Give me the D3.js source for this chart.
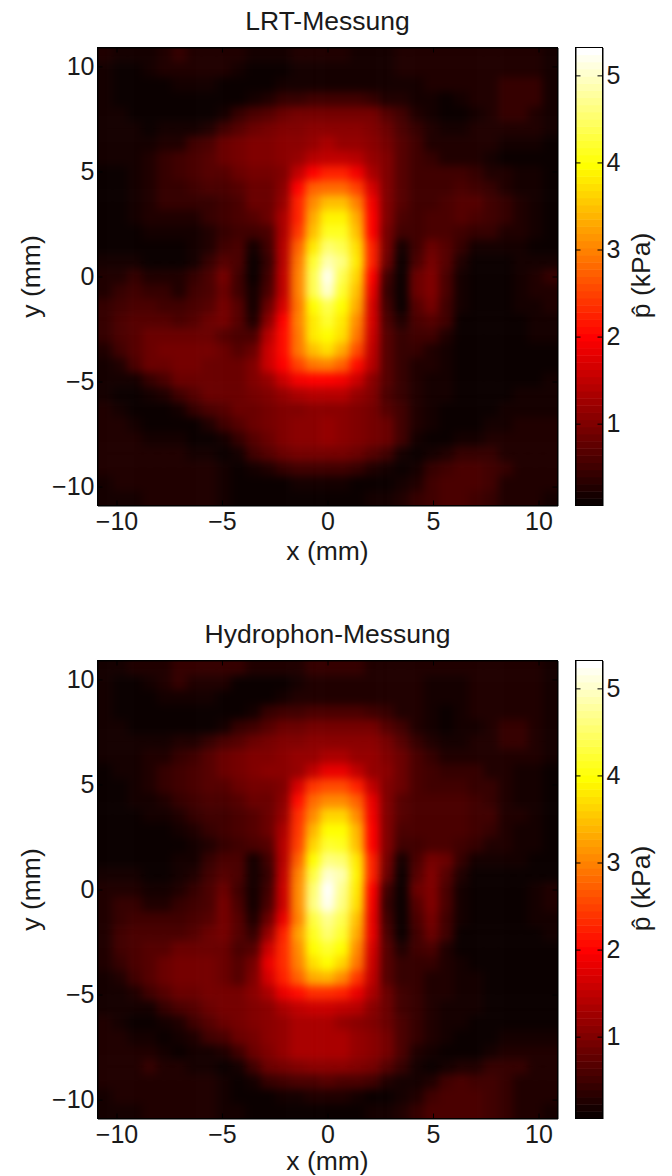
<!DOCTYPE html>
<html>
<head>
<meta charset="utf-8">
<script src="https://cdn.jsdelivr.net/npm/d3@7"></script>
<style>
  html, body { margin: 0; padding: 0; background: #fff; }
  svg { display: block; }
  text { font-family: "Liberation Sans", Arial, sans-serif; fill: #1a1a1a; }
</style>
</head>
<body>
<svg id="chart" width="672" height="1176"></svg>
<script>
// values below are in 0.1 kPa, top row is y = +10.9
var lrtGrid = [
[3,2,2,2,3,4,3,3,3,3,2,2,2,3,3,3,3,2,2,2,3,3,3,3,3,3,3,3,3,3,2],
[2,1,1,2,3,3,3,3,3,2,1,1,1,2,2,2,2,2,2,2,3,3,3,3,3,3,3,3,3,3,2],
[2,1,1,1,1,2,2,2,1,1,1,1,2,2,2,2,2,2,2,2,2,2,3,3,3,3,3,4,4,4,2],
[2,1,1,1,1,1,1,1,1,1,2,3,4,4,5,5,5,5,4,3,3,2,2,1,2,3,3,4,4,4,2],
[2,2,1,1,1,1,1,1,2,4,6,7,8,9,9,9,9,9,9,7,5,3,2,1,1,2,3,4,4,3,2],
[2,2,2,1,2,2,2,3,5,7,8,9,10,10,11,11,11,11,10,8,6,4,3,2,2,3,3,3,3,3,2],
[2,2,2,2,3,3,5,6,8,9,10,10,11,11,12,13,12,12,11,9,7,5,3,3,3,3,3,2,2,2,1],
[2,2,2,3,4,5,6,7,8,9,10,10,11,12,14,15,15,14,12,10,7,5,4,3,3,3,2,1,1,1,1],
[1,1,2,3,4,5,6,7,7,8,9,9,10,15,20,22,22,19,13,10,7,5,5,5,5,4,3,3,2,2,1],
[1,1,2,3,4,4,5,6,6,7,8,8,11,20,27,28,28,25,17,10,7,5,5,5,6,5,4,3,2,2,1],
[1,1,2,3,4,4,4,4,5,6,8,8,12,22,31,35,35,30,19,10,7,5,5,6,7,7,5,4,3,2,1],
[1,1,2,3,3,3,3,4,5,6,7,8,13,22,33,39,39,33,20,10,6,5,6,6,7,6,5,4,3,2,1],
[1,1,1,2,2,2,2,3,4,5,5,6,13,24,35,41,41,35,20,9,5,5,6,6,5,4,4,3,3,2,1],
[1,1,1,1,1,1,2,3,5,6,2,5,14,27,38,45,44,37,22,9,2,5,8,7,4,2,2,2,2,1,1],
[2,2,2,1,1,1,2,4,7,6,1,4,14,29,42,49,46,38,22,8,1,6,9,7,3,1,1,1,2,2,2],
[3,3,4,3,3,3,4,6,9,5,1,5,15,30,44,52,44,36,20,5,1,8,10,6,2,1,0,1,2,3,4],
[3,4,5,4,4,3,5,6,8,5,2,6,15,30,44,50,42,35,18,4,1,8,10,6,2,1,1,1,2,3,3],
[4,5,6,6,5,5,6,7,9,7,2,8,17,29,40,44,40,33,17,5,1,7,9,5,2,1,1,1,2,2,3],
[4,6,7,7,7,6,7,8,9,7,3,11,20,30,38,42,38,31,17,6,3,6,7,5,1,1,1,1,1,2,2],
[4,6,7,8,8,8,8,8,7,6,6,14,21,29,38,40,37,29,16,7,4,5,5,3,1,1,1,0,1,2,2],
[3,5,7,8,9,9,9,9,8,7,8,16,21,29,35,37,33,26,15,7,4,4,3,2,1,1,1,0,1,1,1],
[2,3,6,8,8,9,9,8,8,8,10,16,20,25,29,30,27,21,14,7,4,3,3,2,1,1,1,0,1,1,1],
[2,2,2,4,6,8,8,8,8,8,10,12,16,19,20,20,19,16,11,7,4,3,2,2,1,1,1,1,1,1,2],
[2,1,1,2,3,5,7,8,8,8,9,10,12,13,14,14,14,12,10,6,4,3,2,2,1,1,1,1,2,2,2],
[3,2,1,1,1,2,4,6,7,8,8,9,10,10,11,11,11,10,9,7,5,3,2,1,1,1,1,2,2,2,2],
[3,3,2,1,1,1,1,3,5,7,8,9,10,11,11,12,11,10,9,8,5,3,2,1,1,1,2,2,3,3,3],
[3,3,3,2,2,2,1,1,2,4,7,8,10,11,11,12,11,10,9,8,5,2,1,1,2,2,3,3,3,3,3],
[3,3,3,3,3,3,2,2,1,2,5,7,8,9,9,9,9,8,7,5,2,1,2,3,4,4,4,3,3,3,3],
[3,3,3,3,3,3,3,3,2,1,2,3,4,5,5,5,5,4,3,2,1,2,4,5,6,6,5,4,3,3,3],
[2,3,3,3,3,3,3,3,2,1,1,1,1,2,2,2,2,1,1,1,2,3,5,6,6,6,5,3,3,3,3],
[2,2,2,3,3,3,3,3,2,1,1,1,1,1,1,1,1,1,2,2,3,4,5,6,6,5,4,3,3,3,2]
];

var hydroGrid = [
[2,2,3,3,3,4,4,4,4,4,3,3,3,3,4,4,4,4,3,3,3,3,3,3,3,3,3,3,3,3,2],
[2,1,1,2,3,4,3,3,3,1,1,1,1,2,3,3,3,3,3,3,3,3,2,2,2,3,3,3,3,3,2],
[2,1,1,1,2,2,2,2,1,1,0,1,2,3,3,3,3,3,3,3,3,3,2,2,2,3,3,3,3,3,2],
[2,1,1,1,1,1,1,1,1,1,2,4,5,5,6,6,6,6,5,4,3,3,2,1,2,3,3,3,3,3,2],
[2,2,1,1,0,0,1,1,2,4,5,7,8,8,9,9,9,9,9,7,5,3,2,1,2,2,3,4,4,3,2],
[2,2,2,2,2,3,3,4,6,7,8,9,10,10,11,11,11,11,11,9,7,4,3,2,2,3,3,4,4,3,2],
[2,2,2,3,3,4,5,7,8,9,10,10,11,12,12,13,13,12,12,10,8,6,4,3,3,3,3,3,3,3,2],
[1,2,2,3,4,5,6,7,8,9,10,11,11,12,15,18,18,15,12,11,8,6,5,4,4,4,3,3,2,2,1],
[1,1,2,3,4,5,6,7,7,8,9,9,10,17,24,26,26,22,15,10,8,6,5,5,5,4,4,3,2,2,1],
[1,1,2,2,3,4,5,6,6,7,8,8,11,21,28,31,31,27,18,10,7,6,6,6,6,5,4,3,2,2,1],
[1,1,1,2,2,3,4,5,5,6,7,8,12,23,31,36,36,31,19,10,7,6,6,6,6,5,5,3,3,2,1],
[1,1,1,1,1,2,3,4,5,6,7,8,13,24,34,40,40,34,20,10,6,6,6,6,6,5,4,3,2,2,1],
[1,1,1,1,1,1,2,3,4,5,6,7,14,25,36,42,41,35,20,10,5,5,6,6,5,4,3,3,2,2,1],
[1,1,1,1,1,2,2,4,6,6,2,5,14,27,40,46,45,38,22,9,2,6,9,8,4,2,2,2,2,1,1],
[2,2,2,1,1,2,3,5,7,6,2,4,15,30,43,50,49,39,22,8,1,7,10,7,3,1,0,1,1,1,1],
[3,3,3,2,2,3,4,6,8,5,2,5,16,31,45,53,47,38,20,5,1,8,10,6,2,1,0,0,1,2,3],
[3,4,4,3,3,4,5,6,9,6,2,6,16,31,46,52,46,37,19,4,0,7,10,6,2,1,1,1,1,2,3],
[3,4,5,5,5,5,6,7,9,7,3,8,18,30,43,47,44,35,18,5,0,6,9,5,2,1,1,1,1,2,2],
[3,5,6,6,6,6,7,8,9,7,4,12,22,32,41,45,42,33,18,6,1,5,8,5,1,1,1,1,1,1,2],
[3,5,6,7,7,8,8,8,8,6,7,16,23,31,40,42,40,31,17,7,3,5,6,3,1,0,1,1,1,1,1],
[3,4,6,7,8,9,9,9,8,7,9,18,23,30,37,40,36,29,16,7,4,4,4,3,2,1,1,1,1,1,1],
[2,3,5,7,8,9,9,9,8,7,10,17,22,27,33,34,31,24,15,7,4,4,3,3,2,2,1,1,1,1,1],
[2,2,3,5,7,8,8,9,9,9,11,13,18,21,23,23,22,18,13,8,5,4,3,3,2,2,1,1,1,1,1],
[2,2,2,2,4,6,7,8,9,9,10,11,13,15,16,16,15,14,11,8,5,4,3,2,2,2,1,1,1,1,1],
[3,2,1,1,2,3,5,7,8,9,10,11,12,13,13,13,12,11,10,8,6,4,3,2,2,1,1,1,1,1,1],
[3,3,2,2,1,2,3,5,6,8,9,11,12,13,13,13,13,12,11,9,6,4,3,2,1,1,1,2,2,2,2],
[3,3,3,3,2,1,2,2,3,5,8,10,12,13,13,13,13,12,11,9,6,3,2,1,1,1,2,3,3,3,3],
[3,3,3,4,3,3,2,2,1,2,5,8,9,10,11,11,11,10,9,7,4,2,1,2,3,3,4,4,4,3,3],
[3,3,3,3,3,3,3,3,2,1,2,4,5,6,6,7,6,6,5,3,2,2,3,5,6,5,5,4,3,3,3],
[2,3,3,3,3,3,3,3,2,1,1,1,2,2,3,3,3,2,1,1,2,3,5,6,6,6,5,4,3,3,3],
[2,2,2,3,3,3,3,3,2,2,1,1,1,1,1,1,1,1,2,2,3,4,6,6,6,6,5,4,3,3,2]
];

var axisTicks = [-10, -5, 0, 5, 10];
var barTicks = [1, 2, 3, 4, 5];
var pMin = 0.06, pMax = 5.32;
var axisLimit = 10.9;

// matlab "hot" colormap, 64 steps
var nColors = 64;
function hot(t) {
    var k = Math.min(nColors - 1, Math.floor(t * nColors)) + 1;
    var n = 24;
    var r = Math.min(1, k / n);
    var g = Math.max(0, Math.min(1, (k - n) / n));
    var b = Math.max(0, (k - 2 * n) / (nColors - 2 * n));
    return d3.rgb(r * 255, g * 255, b * 255);
}
var pScale = d3.scaleLinear().domain([pMin, pMax]).range([0, 1]).clamp(true);

var svg = d3.select("#chart");
var defs = svg.append("defs");

// soft edges between the cells
defs.append("filter")
    .attr("id", "soft")
    .attr("filterUnits", "userSpaceOnUse")
    .attr("x", 0).attr("y", 0).attr("width", 672).attr("height", 1176)
    .attr("color-interpolation-filters", "sRGB")
    .append("feGaussianBlur")
    .attr("stdDeviation", 4.5);

function drawPanel(id, grid, title, top, bottom, xLabelGap) {
    var left = 97.5, right = 557.5;
    var barLeft = 575.5, barRight = 602.5;

    var x = d3.scaleLinear().domain([-axisLimit, axisLimit]).range([left, right]);
    var y = d3.scaleLinear().domain([-axisLimit, axisLimit]).range([bottom, top]);
    var col = d3.scaleBand().domain(d3.range(grid[0].length)).range([left, right]);
    var row = d3.scaleBand().domain(d3.range(grid.length)).range([top, bottom]);

    defs.append("clipPath").attr("id", "clip" + id)
        .append("rect")
        .attr("x", left).attr("y", top)
        .attr("width", right - left).attr("height", bottom - top);

    var cells = [];
    grid.forEach(function (r, i) {
        r.forEach(function (v, j) {
            cells.push({ i: i, j: j, v: v / 10 });
        });
    });

    // the outer cells run past the box so the blur does not fade at the border
    var over = 20;
    svg.append("g")
        .attr("clip-path", "url(#clip" + id + ")")
        .append("g")
        .attr("filter", "url(#soft)")
        .selectAll("rect")
        .data(cells)
        .enter()
        .append("rect")
        .attr("x", d => col(d.j) - (d.j == 0 ? over : 0))
        .attr("y", d => row(d.i) - (d.i == 0 ? over : 0))
        .attr("width", d => col.bandwidth() + 0.5 + (d.j == 0 || d.j == grid[0].length - 1 ? over : 0))
        .attr("height", d => row.bandwidth() + 0.5 + (d.i == 0 || d.i == grid.length - 1 ? over : 0))
        .attr("fill", d => hot(pScale(d.v)));

    var fmt = d3.format("d");
    var font = 25;
    var labelFont = 26.5;

    var bottomAxis = svg.append("g")
        .attr("transform", "translate(0," + bottom + ")")
        .call(d3.axisBottom(x).tickValues(axisTicks).tickSizeInner(-5).tickSizeOuter(0).tickPadding(7));
    var leftAxis = svg.append("g")
        .attr("transform", "translate(" + left + ",0)")
        .call(d3.axisLeft(y).tickValues(axisTicks).tickSizeInner(-5).tickSizeOuter(0).tickPadding(3));
    svg.append("g")
        .attr("transform", "translate(0," + top + ")")
        .call(d3.axisTop(x).tickValues(axisTicks).tickSizeInner(-5).tickSizeOuter(0).tickFormat(""));
    svg.append("g")
        .attr("transform", "translate(" + right + ",0)")
        .call(d3.axisRight(y).tickValues(axisTicks).tickSizeInner(-5).tickSizeOuter(0).tickFormat(""));

    bottomAxis.selectAll("text").attr("font-size", font).attr("font-family", null);
    leftAxis.selectAll("text").attr("font-size", font).attr("font-family", null);

    svg.append("text")
        .attr("x", (left + right) / 2).attr("y", top - 17.5)
        .attr("text-anchor", "middle").attr("font-size", labelFont)
        .text(title);
    svg.append("text")
        .attr("x", (left + right) / 2).attr("y", bottom + xLabelGap)
        .attr("text-anchor", "middle").attr("font-size", labelFont)
        .text("x (mm)");
    svg.append("text")
        .attr("transform", "translate(40," + (top + bottom) / 2 + ") rotate(-90)")
        .attr("text-anchor", "middle").attr("font-size", labelFont)
        .text("y (mm)");

    // colour bar
    var bar = d3.scaleLinear().domain([pMin, pMax]).range([bottom, top]);
    var steps = d3.range(nColors);
    var stepH = (bottom - top) / nColors;
    svg.append("g").selectAll("rect")
        .data(steps)
        .enter()
        .append("rect")
        .attr("x", barLeft)
        .attr("y", d => bottom - (d + 1) * stepH)
        .attr("width", barRight - barLeft)
        .attr("height", stepH + 0.5)
        .attr("fill", d => hot((d + 0.5) / nColors));

    var barAxis = svg.append("g")
        .attr("transform", "translate(" + barRight + ",0)")
        .call(d3.axisRight(bar).tickValues(barTicks).tickSizeInner(-5).tickSizeOuter(0).tickPadding(4).tickFormat(fmt));
    barAxis.selectAll("text").attr("font-size", font).attr("font-family", null);
    svg.append("g")
        .attr("transform", "translate(" + barLeft + ",0)")
        .call(d3.axisLeft(bar).tickValues(barTicks).tickSizeInner(-5).tickSizeOuter(0).tickFormat(""));

    svg.append("text")
        .attr("transform", "translate(650," + (top + 228) + ") rotate(-90)")
        .attr("text-anchor", "middle").attr("font-size", labelFont)
        .text("p\u0302 (kPa)");

    // boxes on top of everything
    svg.append("rect")
        .attr("x", left).attr("y", top)
        .attr("width", right - left).attr("height", bottom - top)
        .attr("fill", "none").attr("stroke", "#000");
    svg.append("rect")
        .attr("x", barLeft).attr("y", top)
        .attr("width", barRight - barLeft).attr("height", bottom - top)
        .attr("fill", "none").attr("stroke", "#000");
}

drawPanel("a", lrtGrid, "LRT-Messung", 47.5, 505.5, 54.5);
drawPanel("b", hydroGrid, "Hydrophon-Messung", 660.5, 1118.5, 51.5);
</script>
</body>
</html>
